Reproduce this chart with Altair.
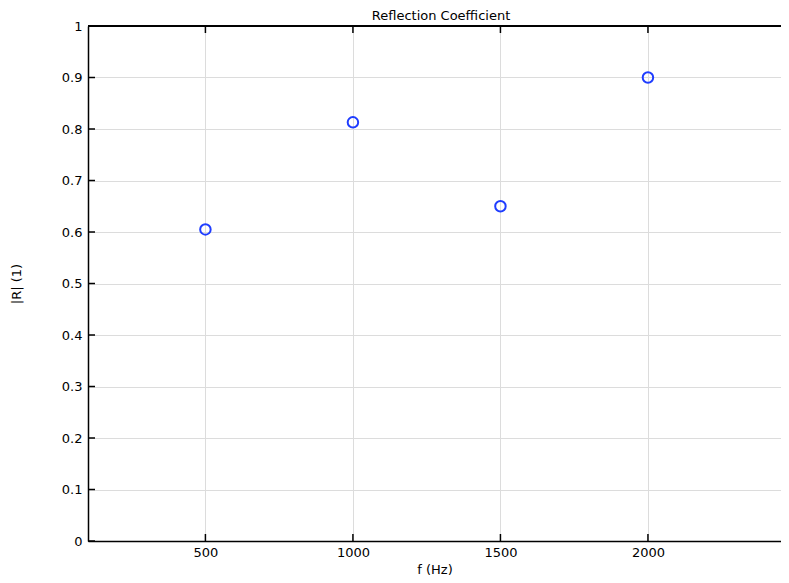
import altair as alt
import pandas as pd

freq = [500, 1000, 1500, 2000]
refl = [0.605, 0.813, 0.650, 0.900]
x_ticks = [500, 1000, 1500, 2000]
y_ticks = [0, 0.1, 0.2, 0.3, 0.4, 0.5, 0.6, 0.7, 0.8, 0.9, 1]
title_text = ["Reflection Coefficient"]

W, H = 693, 515
FONT = "DejaVu Sans"

df = pd.DataFrame({"f": freq, "R": refl})
xt = pd.DataFrame({"t": x_ticks})
yt = pd.DataFrame({"t": y_ticks})
tt = pd.DataFrame({"title": title_text})

xscale = alt.Scale(domain=[102, 2451], nice=False, zero=False)
yscale = alt.Scale(domain=[0, 1], nice=False)

xaxis = alt.Axis(values=x_ticks, title="f (Hz)", grid=True, gridColor="#dcdcdc",
                 domainColor="#000", domainWidth=1.5, ticks=False, labelPadding=5,
                 format="d",
                 labelFont=FONT, labelFontSize=13, labelColor="#000",
                 titleFont=FONT, titleFontSize=13, titleFontWeight="normal",
                 titleColor="#000", titlePadding=4)
yaxis = alt.Axis(values=y_ticks, title="|R| (1)", grid=True, gridColor="#dcdcdc",
                 domainColor="#000", domainWidth=1.5, ticks=False, labelPadding=6,
                 labelExpr="format(datum.value, '~g')",
                 labelFont=FONT, labelFontSize=13, labelColor="#000",
                 titleFont=FONT, titleFontSize=13, titleFontWeight="normal",
                 titleColor="#000", titlePadding=38)

points = alt.Chart(df).mark_point(shape="circle", filled=False, size=110,
                                  strokeWidth=2, color="#1f3dff", opacity=1).encode(
    x=alt.X("f:Q", scale=xscale, axis=xaxis),
    y=alt.Y("R:Q", scale=yscale, axis=yaxis),
)

top_border = alt.Chart(xt).mark_rule(color="#000", strokeWidth=1.5).encode(
    x=alt.value(0), x2=alt.value(W), y=alt.value(0))

bottom_ticks = alt.Chart(xt).mark_rule(color="#000", strokeWidth=1.5).encode(
    x=alt.X("t:Q", scale=xscale), y=alt.value(H), y2=alt.value(H - 7))
top_ticks = alt.Chart(xt).mark_rule(color="#000", strokeWidth=1.5).encode(
    x=alt.X("t:Q", scale=xscale), y=alt.value(0), y2=alt.value(7))
left_ticks = alt.Chart(yt).mark_rule(color="#000", strokeWidth=1.5).encode(
    y=alt.Y("t:Q", scale=yscale), x=alt.value(0), x2=alt.value(7))

title = alt.Chart(tt).mark_text(font=FONT, fontSize=13, color="#000",
                                align="center", baseline="top").encode(
    text="title:N", x=alt.value(353), y=alt.value(-16))

chart = alt.layer(points, top_border, bottom_ticks, top_ticks, left_ticks, title).properties(
    width=W, height=H,
    autosize=alt.AutoSizeParams(type="none"),
    padding={"left": 80, "top": 18, "right": 0, "bottom": 42},
).configure_view(stroke=None).configure(background="white")

chart.save("out.html", embed_options={"renderer": "svg", "actions": False})
